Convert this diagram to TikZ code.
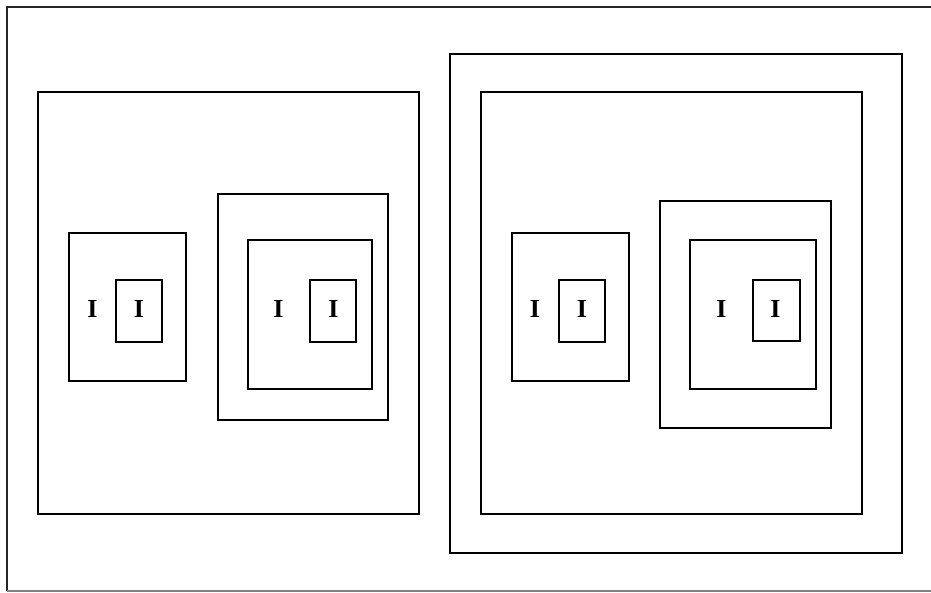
\documentclass[tikz,border=0pt]{standalone}
\usepackage{fontspec}
\setmainfont{Liberation Serif}
\usetikzlibrary{fit}
\begin{document}
\begin{tikzpicture}[x=1pt,y=-1pt,
  boxs/.style={draw=black, line width=1.8pt, inner sep=0pt, outer sep=0pt},
  lbl/.style={font=\fontsize{26}{26}\selectfont\bfseries, inner sep=0pt},
  framel/.style={line width=1.5pt, draw=black!85}]
\useasboundingbox (0,0) rectangle (931,592);
% outer frame
\coordinate (f1) at (7,7);
\coordinate (f2) at (931,7);
\coordinate (f3) at (7,591);
\coordinate (f4) at (931,591);
\draw[framel] (f2) -- (f1) -- (f3);
\draw[line width=1.3pt, draw=black!50] (f3) -- (f4);
% helper coordinates and boxes
\foreach \n/\xa/\ya/\xb/\yb in {
  Lbig/38/92/419/514,
  A/69/233/186/381,
  As/116/280/162/342,
  Bo/218/194/388/420,
  Bi/248/240/372/389,
  Bs/310/280/356/342,
  Ro/450/54/902/553,
  Rbig/481/92/862/514,
  C/512/233/629/381,
  Cs/559/280/605/342,
  Do/660/201/831/428,
  Di/690/240/816/389,
  Ds/753/280/800/341}{
  \coordinate (\n-a) at (\xa,\ya);
  \coordinate (\n-b) at (\xb,\yb);
  \node[boxs, fit=(\n-a)(\n-b)] (\n) {};
}
% labels
\node[lbl] (tA) at (92.5,309) {I};
\node[lbl] (tAs) at (139,309) {I};
\node[lbl] (tB) at (278.5,309) {I};
\node[lbl] (tBs) at (333.5,309) {I};
\node[lbl] (tC) at (535,309) {I};
\node[lbl] (tCs) at (582,309) {I};
\node[lbl] (tD) at (721.5,309) {I};
\node[lbl] (tDs) at (775.5,309) {I};
\end{tikzpicture}
\end{document}
